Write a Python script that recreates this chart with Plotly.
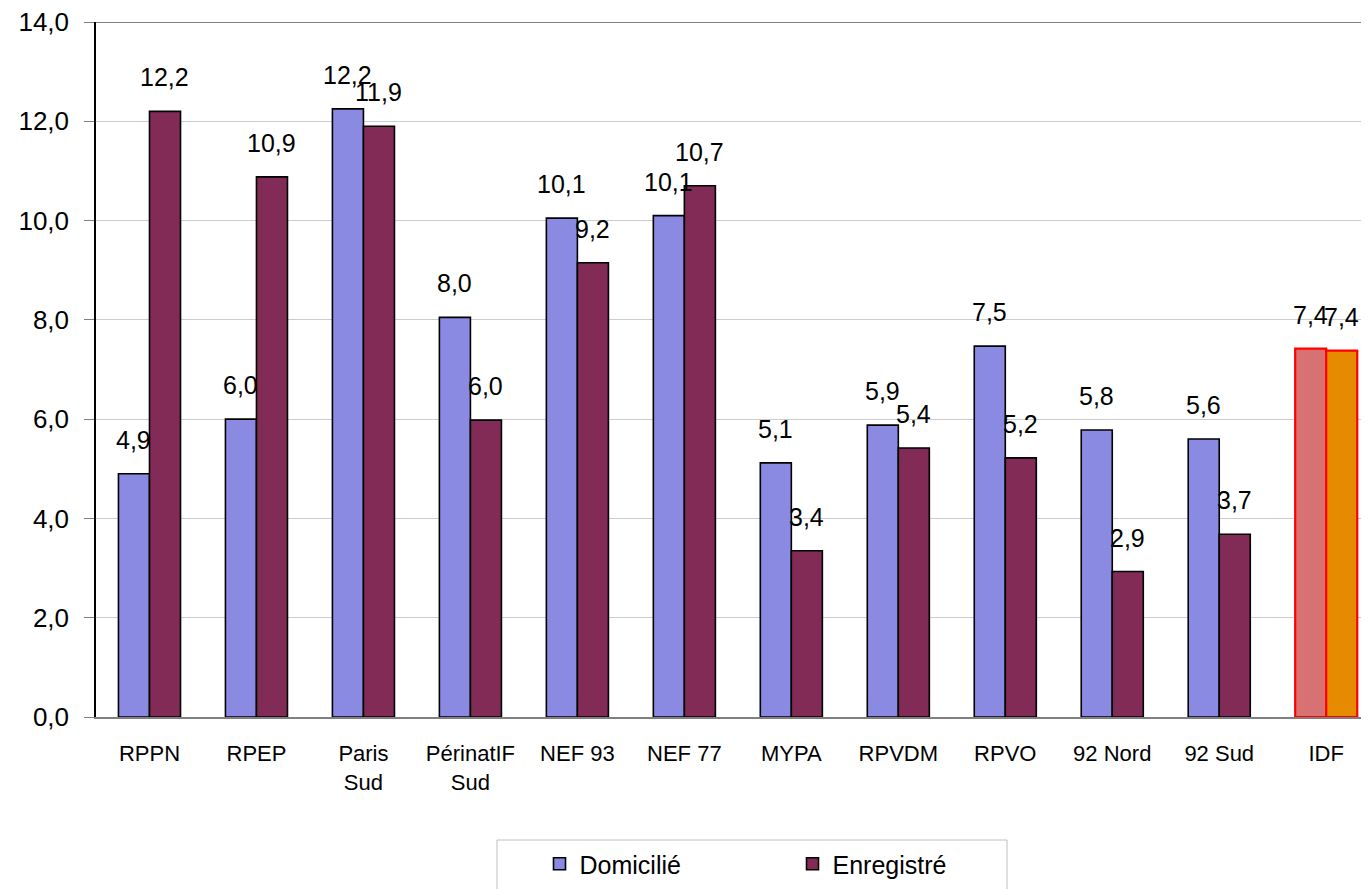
import plotly.graph_objects as go

categories = ["RPPN", "RPEP", "Paris<br>Sud", "PérinatIF<br>Sud", "NEF 93", "NEF 77",
              "MYPA", "RPVDM", "RPVO", "92 Nord", "92 Sud", "IDF"]
domicilie = [4.9, 6.0, 12.25, 8.05, 10.05, 10.1, 5.12, 5.88, 7.47, 5.78, 5.6, 7.42]
enregistre = [12.2, 10.88, 11.9, 5.98, 9.15, 10.7, 3.35, 5.42, 5.22, 2.93, 3.68, 7.38]
dom_labels = ["4,9", "6,0", "12,2", "8,0", "10,1", "10,1", "5,1", "5,9", "7,5", "5,8", "5,6", "7,4"]
enr_labels = ["12,2", "10,9", "11,9", "6,0", "9,2", "10,7", "3,4", "5,4", "5,2", "2,9", "3,7", "7,4"]
series_names = ["Domicilié", "Enregistré"]

FONT = "Liberation Sans, Arial, sans-serif"
n = len(categories)
idx = list(range(n))

# page has an 8px body margin: figure occupies page pixels 8..1369 / 8..889
W, H = 1361, 881
ML, MT, MB, MR = 88, 14, 172, 0
plot_w = W - ML - MR
plot_h = H - MT - MB

dom_colors = ["#8a8ae3"] * (n - 1) + ["#d87272"]
enr_colors = ["#832b57"] * (n - 1) + ["#e68a00"]
dom_line = ["#000000"] * (n - 1) + ["#ff0000"]
enr_line = ["#000000"] * (n - 1) + ["#ff0000"]
line_w = [1.6] * (n - 1) + [2.2]

fig = go.Figure()
fig.add_trace(go.Bar(x=idx, y=domicilie, name=series_names[0],
                     marker=dict(color=dom_colors, line=dict(color=dom_line, width=line_w))))
fig.add_trace(go.Bar(x=idx, y=enregistre, name=series_names[1],
                     marker=dict(color=enr_colors, line=dict(color=enr_line, width=line_w))))

annotations = []
for i in idx:
    annotations.append(dict(x=i, y=domicilie[i], text=dom_labels[i], xshift=-15.5, yshift=18,
                            yanchor="bottom", xanchor="center", showarrow=False,
                            font=dict(family=FONT, size=25, color="#000000")))
    annotations.append(dict(x=i, y=enregistre[i], text=enr_labels[i], xshift=15.5, yshift=18,
                            yanchor="bottom", xanchor="center", showarrow=False,
                            font=dict(family=FONT, size=25, color="#000000")))


def px_to_paper_x(px_page):
    return (px_page - 8 - ML) / plot_w


def px_to_paper_y(py_page):
    return (H - MB - (py_page - 8)) / plot_h


shapes = [
    dict(type="line", xref="paper", yref="y", x0=0, x1=1, y0=14, y1=14,
         line=dict(color="#808080", width=2)),
    # legend frame
    dict(type="rect", xref="paper", yref="paper",
         x0=px_to_paper_x(497), x1=px_to_paper_x(1007),
         y0=px_to_paper_y(840), y1=px_to_paper_y(900),
         line=dict(color="#c0c0c0", width=1), fillcolor="rgba(0,0,0,0)", layer="above"),
]

fig.update_layout(
    width=W, height=H,
    margin=dict(l=ML, r=MR, t=MT, b=MB, autoexpand=False),
    paper_bgcolor="white", plot_bgcolor="white",
    barmode="group", bargap=0.42, bargroupgap=0,
    separators=", ",
    font=dict(family=FONT, color="#000000"),
    annotations=annotations,
    shapes=shapes,
    showlegend=True,
    legend=dict(orientation="h", xref="container", yref="container",
                x=(539.5 - 8) / W, y=1 - (841 - 8) / H, xanchor="left", yanchor="top",
                bgcolor="rgba(0,0,0,0)", borderwidth=0,
                entrywidth=208, font=dict(family=FONT, size=25),
                traceorder="normal"),
    xaxis=dict(tickmode="array", tickvals=idx, ticktext=categories,
               range=[-0.5, 11.4], showgrid=False, zeroline=False,
               showline=True, linecolor="#808080", linewidth=2,
               ticks="", tickfont=dict(family=FONT, size=22),
               ticklabelstandoff=16, ticklabeloverflow="allow"),
    yaxis=dict(range=[0, 14], dtick=2, tickformat=".1f",
               showgrid=True, gridcolor="#cccccc", gridwidth=1,
               zeroline=False, showline=True, linecolor="#000000", linewidth=1.5,
               ticks="outside", ticklen=10, tickcolor="#808080",
               tickfont=dict(family=FONT, size=26), ticklabelstandoff=10,
               ticklabeloverflow="allow"),
)

fig.write_html("out.html")
